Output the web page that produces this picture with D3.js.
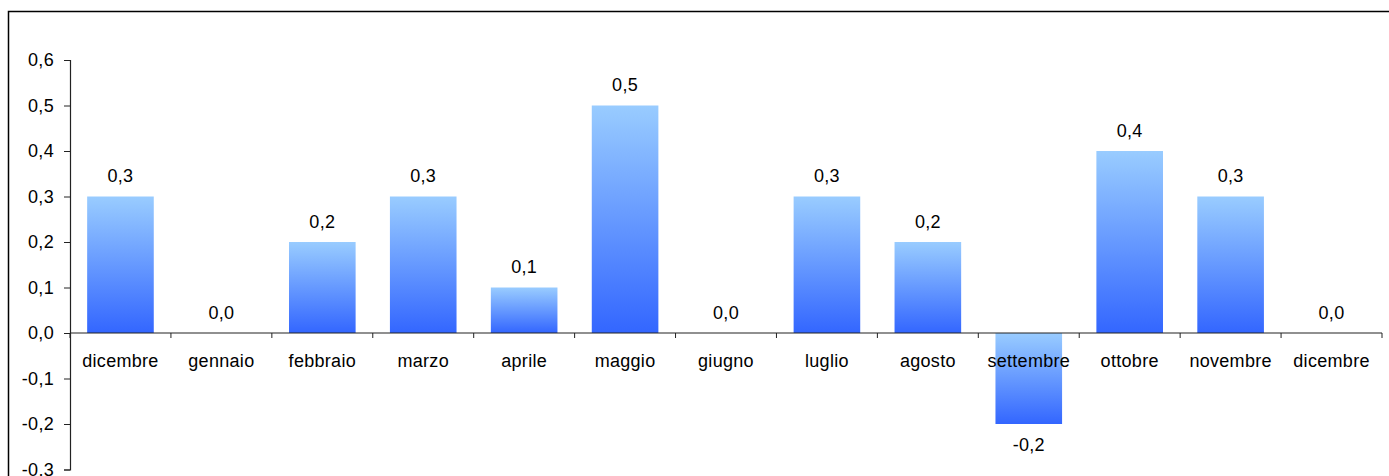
<!DOCTYPE html>
<html>
<head>
<meta charset="utf-8">
<script src="https://cdn.jsdelivr.net/npm/d3@7"></script>
<style>
  html, body { margin: 0; padding: 0; background: #fff; }
  svg { display: block; font-family: "Liberation Sans", Arial, sans-serif; }
  svg text { letter-spacing: 0.3px; }
</style>
</head>
<body>
<div id="chart"></div>
<script>
// Monthly change chart, one bar per month
const months = ['dicembre', 'gennaio', 'febbraio', 'marzo', 'aprile', 'maggio', 'giugno',
  'luglio', 'agosto', 'settembre', 'ottobre', 'novembre', 'dicembre'];
const values = [0.3, 0.0, 0.2, 0.3, 0.1, 0.5, 0.0, 0.3, 0.2, -0.2, 0.4, 0.3, 0.0];
const yTicks = [0.6, 0.5, 0.4, 0.3, 0.2, 0.1, 0.0, -0.1, -0.2, -0.3];

const width = 1389;
const height = 476;
const fontSize = 18;
// Italian decimal comma, plain hyphen for the minus sign
const fmt = v => v.toFixed(1).replace('.', ',');

const svg = d3.select('#chart')
  .append('svg')
  .attr('width', width)
  .attr('height', height);

// Outer frame (chart area is cropped on the right and bottom)
svg.append('path')
  .attr('d', `M8.5,${height + 5} L8.5,11.5 L${width + 5},11.5`)
  .attr('fill', 'none')
  .attr('stroke', '#000')
  .attr('stroke-width', 1.5);

const defs = svg.append('defs');
const grad = defs.append('linearGradient')
  .attr('id', 'barGrad')
  .attr('x1', 0).attr('y1', 0)
  .attr('x2', 0).attr('y2', 1);
grad.append('stop').attr('offset', '0%').attr('stop-color', '#99ccff');
grad.append('stop').attr('offset', '100%').attr('stop-color', '#3366ff');

const x = d3.scaleBand()
  .domain(d3.range(months.length))
  .range([70, 1382])
  .paddingInner(0.34)
  .paddingOuter(0.17);

const y = d3.scaleLinear()
  .domain([-0.3, 0.6])
  .range([469.5, 60]);

// Bars
svg.append('g')
  .selectAll('rect')
  .data(values)
  .join('rect')
  .attr('x', (d, i) => x(i))
  .attr('width', x.bandwidth())
  .attr('y', d => y(Math.max(0, d)))
  .attr('height', d => Math.abs(y(d) - y(0)))
  .attr('fill', 'url(#barGrad)');

// Y axis
const yAxis = svg.append('g')
  .attr('transform', 'translate(70,0)')
  .call(d3.axisLeft(y).tickValues(yTicks).tickFormat(fmt).tickSize(6).tickPadding(10));
yAxis.select('.domain').attr('stroke', '#222').attr('stroke-width', 1.2);
yAxis.selectAll('.tick line').attr('stroke', '#222');
yAxis.selectAll('.tick text').attr('font-size', fontSize).attr('fill', '#000');

// X axis at zero line, ticks between categories
const xAxis = svg.append('g')
  .attr('transform', `translate(0,${y(0)})`);
xAxis.append('line')
  .attr('x1', 70).attr('x2', 1382)
  .attr('stroke', '#222').attr('stroke-width', 1.2);
xAxis.selectAll('line.tk')
  .data(d3.range(months.length + 1))
  .join('line')
  .attr('class', 'tk')
  .attr('x1', i => 70 + i * x.step())
  .attr('x2', i => 70 + i * x.step())
  .attr('y1', 0).attr('y2', 5)
  .attr('stroke', '#222');
xAxis.selectAll('text')
  .data(months)
  .join('text')
  .attr('x', (d, i) => x(i) + x.bandwidth() / 2)
  .attr('y', 34)
  .attr('text-anchor', 'middle')
  .attr('font-size', fontSize)
  .attr('fill', '#000')
  .text(d => d);

// Value labels
svg.append('g')
  .selectAll('text')
  .data(values)
  .join('text')
  .attr('x', (d, i) => x(i) + x.bandwidth() / 2)
  .attr('y', d => d < 0 ? y(d) + 27 : y(d) - 14.5)
  .attr('text-anchor', 'middle')
  .attr('font-size', fontSize)
  .attr('fill', '#000')
  .text(d => fmt(d));
</script>
</body>
</html>
